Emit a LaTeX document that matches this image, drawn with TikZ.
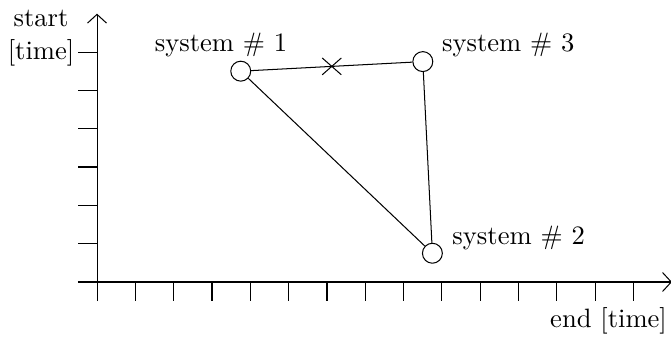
\documentclass[tikz,border=0pt]{standalone}
\usetikzlibrary{calc,arrows.meta}
\begin{document}
\begin{tikzpicture}[x=15pt,y=15pt,
  font=\fontsize{10.4}{12.9}\selectfont,
  axarrow/.style={-{Straight Barb[length=3.4pt,width=7.4pt]}},
  sys/.style={circle,draw,minimum size=7.8pt,inner sep=0pt},
  lbl/.style={inner sep=0pt}]
\useasboundingbox (-2.531,-1.409) rectangle (14.975,7.357);
% axes
\draw[axarrow] (-0.5,0) -- (15,0);
\draw[axarrow] (0,-0.5) -- (0,7);
\foreach \i in {1,...,14} \draw (\i,0) -- (\i,-0.5);
\foreach \j in {1,...,6} \draw (0,\j) -- (-0.5,\j);
\node[lbl,anchor=east,align=center] (ylab) at (-0.58,6.36) {start\\{[time]}};
\node[lbl,anchor=east] (xlab) at (14.88,-1.02) {end [time]};
% systems
\node[sys] (s1) at (3.75,5.5) {};
\node[sys] (s3) at (8.5,5.75) {};
\node[sys] (s2) at (8.75,0.75) {};
\draw (s1) -- (s3);
\draw (s1) -- (s2);
\draw (s3) -- (s2);
\coordinate (m) at ($(s1)!0.5!(s3)$);
\draw ([shift={(-0.25,-0.22)}]m) -- ([shift={(0.25,0.22)}]m);
\draw ([shift={(-0.25,0.22)}]m) -- ([shift={(0.25,-0.22)}]m);
\node[lbl] (l1) at (3.235,6.18) {system \# 1};
\node[lbl] (l3) at (10.73,6.18) {system \# 3};
\node[lbl] (l2) at (11.0,1.15) {system \# 2};
\end{tikzpicture}
\end{document}
